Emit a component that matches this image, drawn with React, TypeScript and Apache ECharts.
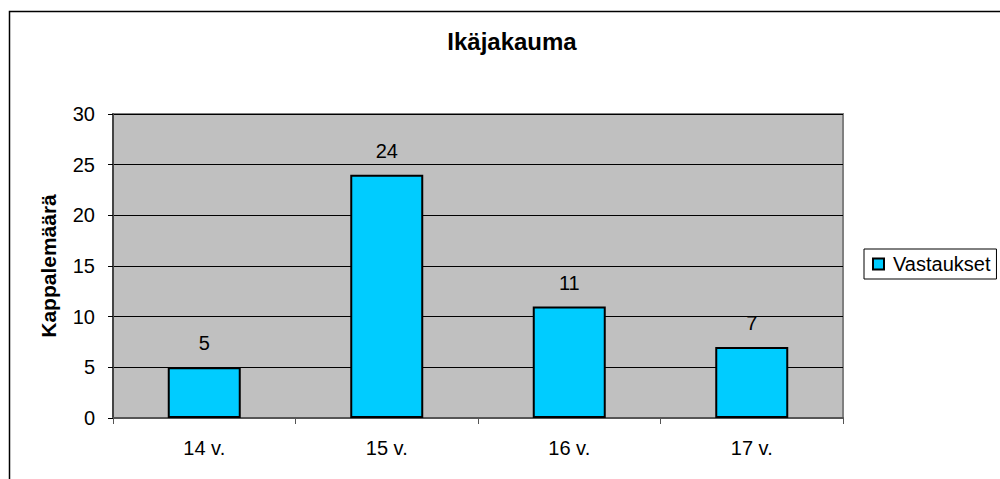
import React, { useEffect, useRef } from "react";
import * as echarts from "echarts";

const categories = ["14 v.", "15 v.", "16 v.", "17 v."];
const values = [5, 24, 11, 7];
const seriesName = "Vastaukset";
const titleText = "Ikäjakauma";
const yAxisName = "Kappalemäärä";

const FONT = "'Liberation Sans', Arial, sans-serif";

export default function App() {
  const ref = useRef<HTMLDivElement>(null);
  useEffect(() => {
    if (!ref.current) return;
    const chart = echarts.init(ref.current, null, { renderer: "svg" });
    chart.setOption({
      animation: false,
      backgroundColor: "#ffffff",
      textStyle: { fontFamily: FONT },
      title: {
        text: titleText,
        left: 512,
        top: 29,
        padding: 0,
        textAlign: "center",
        textStyle: { fontSize: 24, fontWeight: "bold", color: "#000", fontFamily: FONT },
      },
      graphic: [
        {
          type: "rect",
          shape: { x: 9.5, y: 11.5, width: 1000, height: 500 },
          style: { fill: "none", stroke: "#000", lineWidth: 1.5 },
          z: -1,
        },
      ],
      legend: {
        data: [seriesName],
        left: 864,
        top: 249,
        orient: "vertical",
        padding: [5, 6, 5, 8],
        borderColor: "#000",
        borderWidth: 1,
        icon: "rect",
        itemWidth: 11,
        itemHeight: 11,
        itemGap: 0,
        textStyle: { fontSize: 20, color: "#000", fontFamily: FONT, padding: [0, 0, 0, 4] },
        itemStyle: { borderColor: "#000", borderWidth: 2 },
      },
      grid: {
        left: 113,
        top: 114,
        right: 157,
        bottom: 61,
        show: true,
        backgroundColor: "#C0C0C0",
        borderColor: "#808080",
        borderWidth: 2,
      },
      xAxis: {
        type: "category",
        data: categories,
        axisLine: { show: true, lineStyle: { color: "#555", width: 2 } },
        axisTick: { show: true, length: 6, alignWithLabel: false, lineStyle: { color: "#555" } },
        axisLabel: { fontSize: 20, color: "#000", margin: 20, fontFamily: FONT },
        splitLine: { show: false },
      },
      yAxis: {
        type: "value",
        min: 0,
        max: 30,
        interval: 5,
        name: yAxisName,
        nameLocation: "middle",
        nameRotate: 90,
        nameGap: 54,
        nameTextStyle: { fontSize: 21, fontWeight: "bold", color: "#000", fontFamily: FONT },
        axisLine: { show: true, lineStyle: { color: "#444", width: 2 } },
        axisTick: { show: true, length: 5, lineStyle: { color: "#000" } },
        axisLabel: { fontSize: 20, color: "#000", margin: 18, fontFamily: FONT },
        splitLine: { show: true, lineStyle: { color: "#000", width: 1 } },
      },
      series: [
        {
          name: seriesName,
          type: "bar",
          data: values,
          barWidth: "40%",
          itemStyle: { color: "#00CCFF", borderColor: "#000", borderWidth: 2 },
          label: {
            show: true,
            position: "top",
            distance: 14,
            fontSize: 20,
            color: "#000",
            fontFamily: FONT,
          },
        },
      ],
    });
    return () => chart.dispose();
  }, []);
  return (
    <div
      ref={ref}
      style={{ position: "absolute", left: 0, top: 0, width: 1000, height: 479 }}
    />
  );
}
